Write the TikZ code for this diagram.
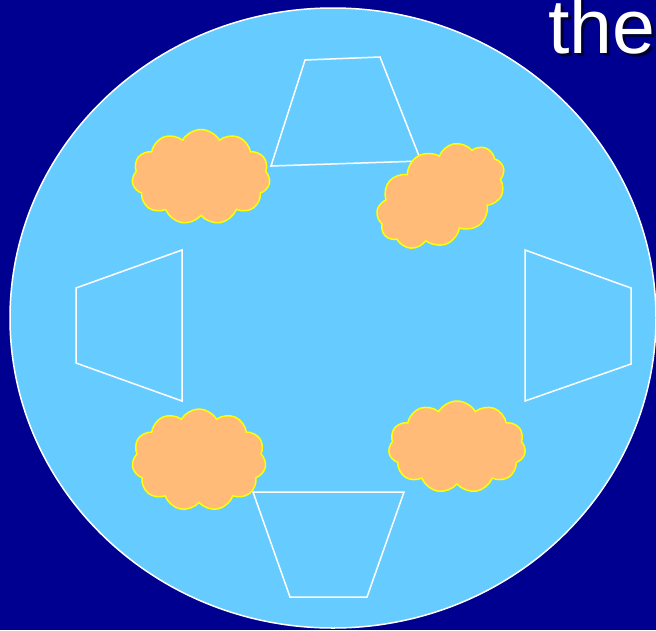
\documentclass[tikz,border=0pt]{standalone}
\usepackage{fontspec}
\setmainfont{Liberation Sans}
\usetikzlibrary{shapes.symbols}
\definecolor{bgnavy}{RGB}{0,0,144}
\definecolor{skyblue}{RGB}{102,204,255}
\definecolor{cloudorange}{RGB}{255,187,119}
\definecolor{cloudyellow}{RGB}{255,255,0}
\definecolor{shadownavy}{RGB}{0,0,50}
\tikzset{
  puff/.style={cloud, cloud puffs=11, cloud puff arc=120, aspect=1.5,
    draw=cloudyellow, fill=cloudorange, line width=1.5pt, inner sep=0pt},
  tray/.style={draw=white, line width=1.5pt}
}

\begin{document}
\begin{tikzpicture}[x=1pt, y=-1pt]
  \useasboundingbox (0,0) rectangle (656,630);
  \fill[bgnavy] (0,0) rectangle (656,630);
  % big disc
  \filldraw[fill=skyblue, draw=white, line width=1.5pt] (333,318) ellipse [x radius=323, y radius=310];
  % title (cut off at the edge)
  \node[anchor=base west, inner sep=0pt, shadownavy, font=\fontsize{77}{80}\selectfont] (titleshadow) at (551,56) {the};
  \node[anchor=base west, inner sep=0pt, white, font=\fontsize{77}{80}\selectfont] (title) at (548,53) {the};
  % trapezoids
  \draw[tray] (305,60) -- (380,57) -- (421,161) -- (271,166) -- cycle;
  \draw[tray] (76,288) -- (182,250) -- (182,401) -- (76,363) -- cycle;
  \draw[tray] (525,250) -- (631,288) -- (631,364) -- (525,401) -- cycle;
  \draw[tray] (253,492) -- (404,492) -- (367,597) -- (290,597) -- cycle;
  % clouds
  \node[puff, minimum width=138, minimum height=95] (cloudnw) at (201,177) {};
  \node[puff, minimum width=138, minimum height=92, rotate=30] (cloudne) at (441,196) {};
  \node[puff, minimum width=134, minimum height=102] (cloudsw) at (199,460) {};
  \node[puff, minimum width=137, minimum height=92] (cloudse) at (457,447) {};
\end{tikzpicture}
\end{document}
